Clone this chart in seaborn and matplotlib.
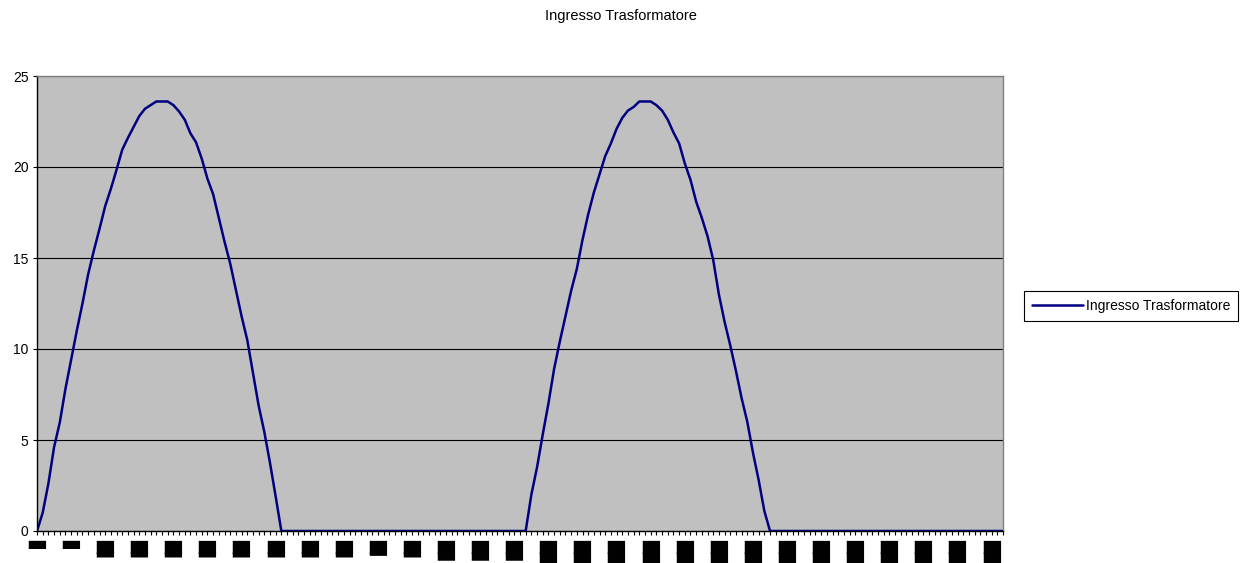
import matplotlib
matplotlib.use("Agg")
import matplotlib.pyplot as plt
from matplotlib.ticker import MultipleLocator, FixedLocator
import seaborn as sns
import pandas as pd

# --- data -----------------------------------------------------------------
series_name = "Ingresso Trasformatore"

# first half-wave (samples 0..43)
hump_1 = [0.0, 1.0, 2.6, 4.6, 5.95, 7.8, 9.4, 11.0, 12.5, 14.1, 15.4, 16.6,
          17.85, 18.8, 19.85, 20.95, 21.6, 22.2, 22.8, 23.2, 23.4, 23.6,
          23.6, 23.6, 23.4, 23.05, 22.6, 21.85, 21.35, 20.45, 19.35, 18.5,
          17.2, 15.9, 14.7, 13.25, 11.8, 10.5, 8.7, 6.9, 5.45, 3.75, 1.9, 0.0]
# blocked interval between the two half-waves (samples 44..85)
gap_1 = [0.0] * 42
# second half-wave (samples 86..129)
hump_2 = [0.0, 2.0, 3.5, 5.3, 7.0, 8.9, 10.4, 11.8, 13.2, 14.4, 16.0, 17.4,
          18.6, 19.6, 20.6, 21.3, 22.1, 22.7, 23.1, 23.3, 23.6, 23.6, 23.6,
          23.4, 23.1, 22.6, 21.9, 21.3, 20.2, 19.3, 18.1, 17.2, 16.2, 14.9,
          13.0, 11.5, 10.2, 8.8, 7.3, 6.0, 4.3, 2.8, 1.1, 0.0]
# tail (samples 130..170)
gap_2 = [0.0] * 41

values = hump_1 + gap_1 + hump_2 + gap_2
sample = list(range(len(values)))

# category labels shown every 6th sample
x_tick_labels = ["▋", "▋", "█▍", "█▍", "█▍", "█▍", "█▍", "█▍", "█▍", "█▍",
                 "█▎", "█▍", "█▋", "█▋", "█▋", "██", "█▉", "██", "██",
                 "██", "█▉", "██", "██", "██", "██", "██", "██",
                 "██", "██"]
label_step = 6

y_ticks = [0, 5, 10, 15, 20, 25]

df = pd.DataFrame({"campione": sample, "tensione": values})

# --- figure ---------------------------------------------------------------
sns.set_style("white")
plt.rcParams["font.family"] = ["Liberation Sans", "DejaVu Sans"]
plt.rcParams["text.color"] = "black"
plt.rcParams["xtick.color"] = "black"
plt.rcParams["ytick.color"] = "black"

W, H, DPI = 1250, 563, 100
fig = plt.figure(figsize=(W / DPI, H / DPI), dpi=DPI, facecolor="white")
ax = fig.add_axes([37 / W, 1 - 531 / H, (1003 - 37) / W, (531 - 76) / H])
ax.set_facecolor("#C0C0C0")

sns.lineplot(data=df, x="campione", y="tensione", ax=ax, color="#000080",
             linewidth=1.8, label=series_name)

ax.set_xlim(0, len(values) - 1)
ax.set_ylim(0, 25)

# y axis
ax.set_yticks(y_ticks)
ax.set_yticklabels([str(v) for v in y_ticks])
ax.yaxis.grid(True, color="#000000", linewidth=0.8)
ax.xaxis.grid(False)
ax.set_axisbelow(True)
ax.tick_params(axis="y", which="major", direction="out", length=3,
               width=0.8, color="black", labelcolor="black", labelsize=10,
               pad=3, left=True)

# x axis: a tick for every sample, a label every 6th
major_pos = list(range(0, len(x_tick_labels) * label_step, label_step))
ax.xaxis.set_major_locator(FixedLocator(major_pos))
ax.set_xticklabels(x_tick_labels, rotation=-90, fontsize=12,
                   family="DejaVu Sans", color="black")
ax.xaxis.set_minor_locator(MultipleLocator(1))
ax.tick_params(axis="x", which="both", direction="out", length=3,
               width=0.8, color="black", bottom=True)
ax.tick_params(axis="x", which="major", pad=2.5)

ax.set_xlabel("")
ax.set_ylabel("")

for side in ("left", "bottom"):
    ax.spines[side].set_color("black")
    ax.spines[side].set_linewidth(1.0)
for side in ("top", "right"):
    ax.spines[side].set_visible(True)
    ax.spines[side].set_color("#808080")
    ax.spines[side].set_linewidth(1.0)

# legend to the right of the plot area
leg = ax.legend(loc="center left", bbox_to_anchor=(1024 / W, 1 - 306 / H),
                bbox_transform=fig.transFigure, frameon=True, fancybox=False,
                shadow=False, fontsize=10, handlelength=3.7,
                handletextpad=0.2, borderpad=0.55, borderaxespad=0)
leg.get_frame().set_edgecolor("black")
leg.get_frame().set_linewidth(0.8)
leg.get_frame().set_facecolor("white")
leg.get_frame().set_alpha(1)
for t in leg.get_texts():
    t.set_color("black")

fig.text(621 / W, 1 - 16 / H, series_name, ha="center", va="center",
         fontsize=10.5, color="black")

fig.savefig("out.png", dpi=DPI, facecolor="white")
